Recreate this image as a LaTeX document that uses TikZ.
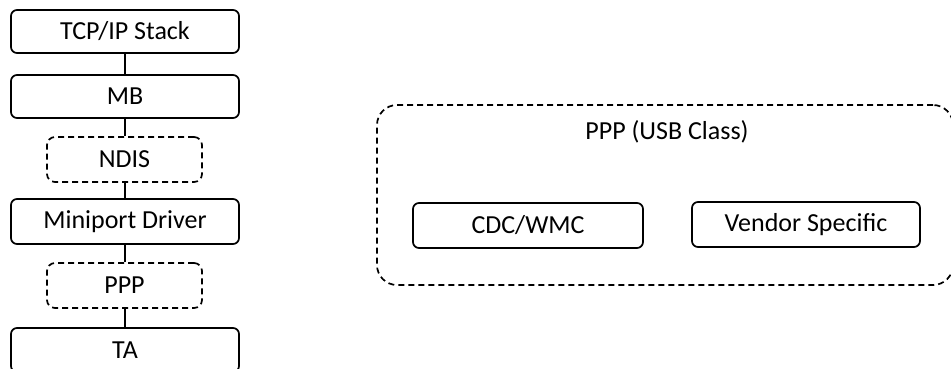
\documentclass[tikz,border=0pt]{standalone}
\usepackage{fontspec}
\setmainfont{Carlito}
\begin{document}
\begin{tikzpicture}[x=1pt,y=-1pt,
  solidbox/.style={draw=black,line width=1.7pt,rounded corners=6pt,minimum width=228pt,minimum height=43pt,inner sep=0pt,font=\fontsize{26}{30}\selectfont},
  dashbox/.style={draw=black,line width=1.7pt,dash pattern=on 6pt off 4pt,rounded corners=8pt,minimum width=155pt,minimum height=45pt,inner sep=0pt,font=\fontsize{26}{30}\selectfont},
  link/.style={draw=black,line width=1.7pt},
  lbl/.style={inner sep=0pt,font=\fontsize{26}{30}\selectfont}]
\clip (0,0) rectangle (951,369);
\node[solidbox] (tcp) at (125,31.5) {TCP/IP Stack};
\node[solidbox] (mb) at (125,96.5) {MB};
\node[dashbox] (ndis) at (124.5,159.5) {NDIS};
\node[solidbox,minimum height=45pt] (mini) at (125,221.5) {Miniport Driver};
\node[dashbox] (ppp) at (124.5,285.5) {PPP};
\node[solidbox,minimum height=44pt] (ta) at (125,350) {TA};
\draw[link] (tcp.south) -- (mb.north);
\draw[link] (mb.south) -- (ndis.north -| mb.south);
\draw[link] (ndis.south -| mini.north) -- (mini.north);
\draw[link] (mini.south) -- (ppp.north -| mini.south);
\draw[link] (ppp.south -| ta.north) -- (ta.north);
\node[draw=black,line width=1.7pt,dash pattern=on 6pt off 4pt,rounded corners=20pt,minimum width=576pt,minimum height=180pt,inner sep=0pt] (usb) at (665,195) {};
\node[lbl] (usblbl) at (667,132) {PPP (USB Class)};
\node[solidbox,minimum width=230pt,minimum height=45pt] (cdc) at (528,225.5) {CDC/WMC};
\node[solidbox,minimum height=45pt] (vendor) at (806,224.5) {Vendor Specific};
\end{tikzpicture}
\end{document}
